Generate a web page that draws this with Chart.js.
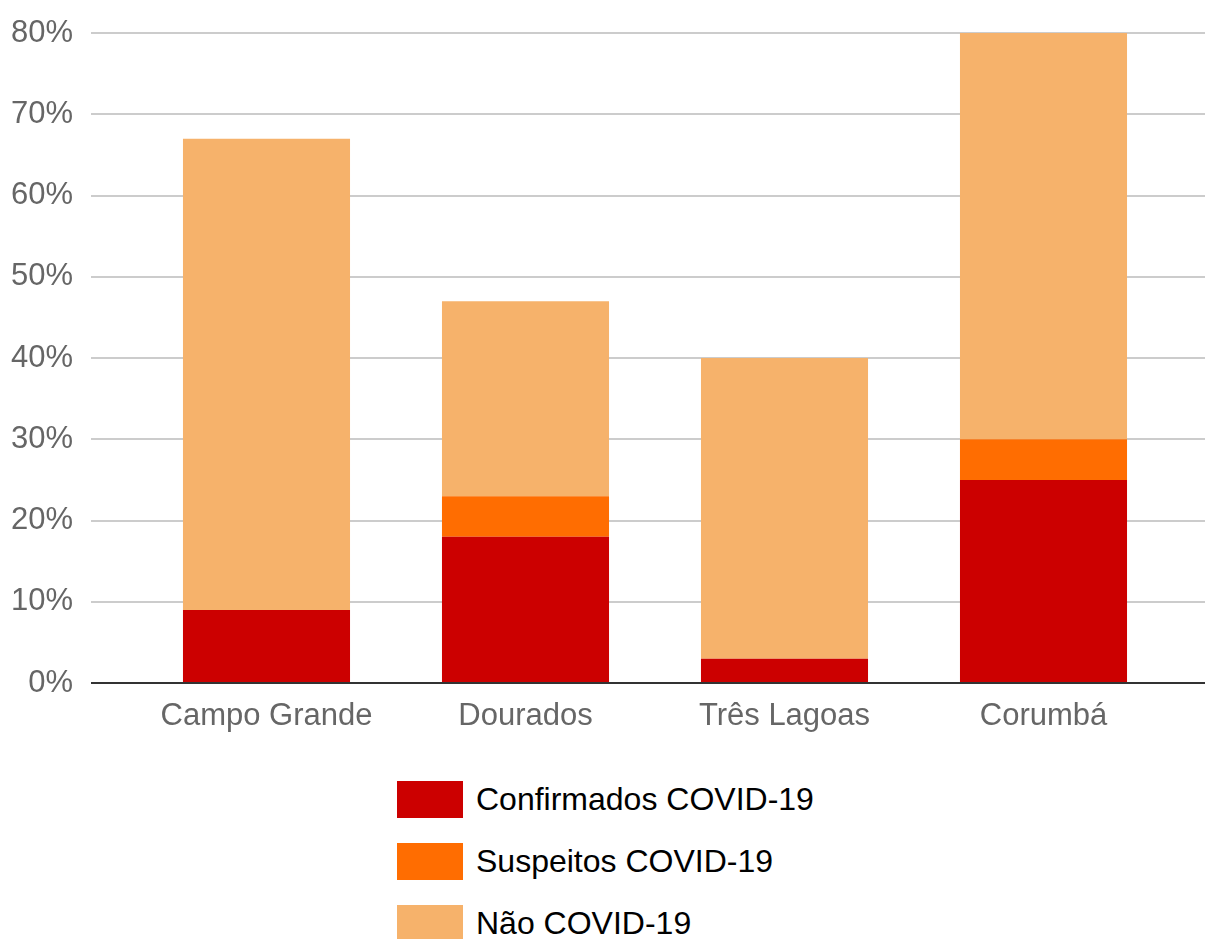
<!DOCTYPE html>
<html>
<head>
<meta charset="utf-8">
<script src="https://cdn.jsdelivr.net/npm/chart.js@4.4.1/dist/chart.umd.min.js"></script>
<style>
    body { margin: 0; background: #fff; font-family: "Liberation Sans", Arial, sans-serif; }
    #wrap { position: relative; width: 1205px; height: 760px; }
    #legend { position: absolute; left: 397px; top: 781px; }
    .item { display: flex; align-items: center; height: 37px; margin-bottom: 25px; }
    .box { width: 66px; height: 37px; margin-right: 13px; }
    .item span { font-size: 32px; color: #000; }
</style>
</head>
<body>
<div id="wrap"><canvas id="chart" width="1205" height="760"></canvas></div>
<div id="legend"></div>
<script>
// data (percent)
const cities = ["Campo Grande", "Dourados", "Três Lagoas", "Corumbá"];
const confirmados = [9, 18, 3, 25];
const suspeitos = [0, 5, 0, 5];
const naoCovid = [58, 24, 37, 50];

const seriesNames = ["Confirmados COVID-19", "Suspeitos COVID-19", "Não COVID-19"];
const seriesColors = ["#cc0000", "#ff6d01", "#f6b26b"];

// grid lines run wider than the bar area, so they are drawn by hand
const gridPlugin = {
    id: "wideGrid",
    beforeDatasetsDraw(chart) {
        const ctx = chart.ctx;
        const y = chart.scales.y;
        ctx.save();
        ctx.strokeStyle = "#cccccc";
        ctx.lineWidth = 2;
        y.ticks.forEach(t => {
            if (t.value === 0) return;
            let py = Math.round(y.getPixelForValue(t.value));
            ctx.beginPath();
            ctx.moveTo(91, py);
            ctx.lineTo(1205, py);
            ctx.stroke();
        });
        ctx.restore();
    },
    afterDatasetsDraw(chart) {
        const ctx = chart.ctx;
        let py = Math.round(chart.scales.y.getPixelForValue(0));
        ctx.save();
        ctx.strokeStyle = "#333333";
        ctx.lineWidth = 2;
        ctx.beginPath();
        ctx.moveTo(91, py);
        ctx.lineTo(1205, py);
        ctx.stroke();
        ctx.restore();
    }
};

const values = [confirmados, suspeitos, naoCovid];

new Chart(document.getElementById("chart"), {
    type: "bar",
    data: {
        labels: cities,
        datasets: values.map((v, i) => ({
            label: seriesNames[i],
            data: v,
            backgroundColor: seriesColors[i],
            borderWidth: 0,
            barPercentage: 0.645,
            categoryPercentage: 1
        }))
    },
    options: {
        responsive: false,
        animation: false,
        layout: { padding: { top: 33, right: 32, bottom: 0, left: 0 } },
        plugins: { legend: { display: false }, tooltip: { enabled: false } },
        scales: {
            x: {
                stacked: true,
                grid: { display: false, drawTicks: false },
                border: { display: false },
                afterFit(scale) { scale.height = 77; scale.paddingLeft = 0; scale.paddingRight = 0; },
                ticks: {
                    color: "#666666",
                    font: { family: "Liberation Sans", size: 31 },
                    padding: 15,
                    maxRotation: 0,
                    minRotation: 0
                }
            },
            y: {
                stacked: true,
                min: 0,
                max: 80,
                grid: { display: false, drawTicks: false },
                border: { display: false },
                afterFit(scale) { scale.width = 137; scale.paddingTop = 0; scale.paddingBottom = 0; },
                ticks: {
                    stepSize: 10,
                    padding: 64,
                    color: "#666666",
                    font: { family: "Liberation Sans", size: 31 },
                    callback: v => v + "%"
                }
            }
        }
    },
    plugins: [gridPlugin]
});

// vertical legend like the original
const legend = document.getElementById("legend");
seriesNames.forEach((name, i) => {
    let row = document.createElement("div");
    row.className = "item";
    row.innerHTML = `<div class="box" style="background:${seriesColors[i]}"></div><span>${name}</span>`;
    legend.appendChild(row);
});
</script>
</body>
</html>
